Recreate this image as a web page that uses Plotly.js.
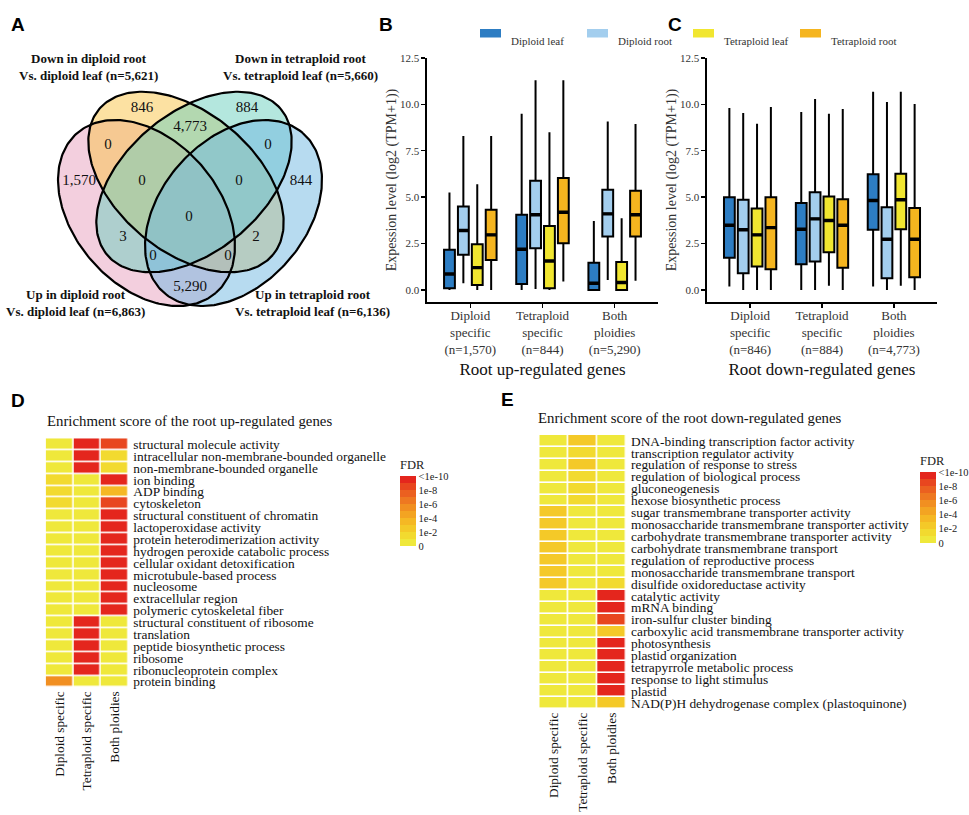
<!DOCTYPE html>
<html>
<head>
<meta charset="utf-8">
<script src="https://cdn.plot.ly/plotly-3.0.1.min.js"></script>
<style>html,body{margin:0;padding:0;background:#fff;}#chart{width:969px;height:815px;}</style>
</head>
<body>
<div id="chart"></div>
<script>
// ---------------- DATA ----------------
// Panel A: Venn (sets: pink, yellow, teal, blue)
const vennSetNames = [
  'Up in diploid root<br>Vs. diploid leaf (n=6,863)',
  'Down in diploid root<br>Vs. diploid leaf (n=5,621)',
  'Down in tetraploid root<br>Vs. tetraploid leaf (n=5,660)',
  'Up in tetraploid root<br>Vs. tetraploid leaf (n=6,136)'
];
const vennCounts = [846, 4773, 884, 0, 0, 1570, 0, 0, 844, 0, 3, 2, 0, 0, 5290];

// Panels B & C: box statistics (log2(TPM+1))
const sampleNames = ['Diploid leaf', 'Diploid root', 'Tetraploid leaf', 'Tetraploid root'];
const groupKeys = ['Diploid specific', 'Tetraploid specific', 'Both ploidies'];
const groupTicksB = ['Diploid<br>specific<br>(n=1,570)', 'Tetraploid<br>specific<br>(n=844)', 'Both<br>ploidies<br>(n=5,290)'];
const groupTicksC = ['Diploid<br>specific<br>(n=846)', 'Tetraploid<br>specific<br>(n=884)', 'Both<br>ploidies<br>(n=4,773)'];

// B (root up-regulated) per sample: [group1, group2, group3]
const upQ1  = [[0.09,0.32,0.00],[1.90,2.25,2.88],[0.27,0.09,0.00],[1.62,2.52,2.88]];
const upMed = [[0.86,2.19,0.36],[3.20,4.05,4.10],[1.20,1.56,0.40],[2.97,4.19,4.05]];
const upQ3  = [[2.16,4.05,1.47],[4.50,5.88,5.40],[2.46,3.45,1.51],[4.32,6.03,5.34]];
const upLo  = [[0.00,0.00,0.00],[0.36,0.05,0.54],[0.00,0.00,0.00],[0.00,0.45,0.50]];
const upHi  = [[5.25,9.50,3.72],[8.30,11.30,9.08],[5.70,8.50,3.87],[8.30,11.30,8.94]];

// C (root down-regulated)
const dnQ1  = [[1.74,1.38,3.24],[0.90,1.53,0.63],[1.26,2.03,3.27],[1.12,1.20,0.68]];
const dnMed = [[3.49,3.27,4.82],[3.24,3.83,2.73],[2.97,3.74,4.86],[3.36,3.49,2.73]];
const dnQ3  = [[5.00,4.68,6.24],[4.86,5.27,4.46],[4.39,5.04,6.26],[5.00,4.89,4.41]];
const dnLo  = [[0.18,0.00,0.18],[0.00,0.00,0.00],[0.00,0.22,0.22],[0.00,0.00,0.00]];
const dnHi  = [[9.80,9.59,10.68],[9.53,10.29,10.13],[8.96,9.50,10.68],[9.86,9.75,10.02]];

// Panels D & E: -log10(FDR), capped at 10
const heatCols = ['Diploid specific', 'Tetraploid specific', 'Both ploidies'];
const termsUp = ['structural molecule activity','intracellular non-membrane-bounded organelle','non-membrane-bounded organelle','ion binding','ADP binding','cytoskeleton','structural constituent of chromatin','lactoperoxidase activity','protein heterodimerization activity','hydrogen peroxide catabolic process','cellular oxidant detoxification','microtubule-based process','nucleosome','extracellular region','polymeric cytoskeletal fiber','structural constituent of ribosome','translation','peptide biosynthetic process','ribosome','ribonucleoprotein complex','protein binding'];
const scoreUp = [[0,10,8],[0,10,1],[0,10,1],[1,0,10],[1,0,3],[1,0,8.5],[0,0,10],[0,0,10],[0,0,10],[0,0,10],[0,0,10],[0,0,10],[0,0,10],[0,0,10],[0,0,10],[0,10,0],[0,10,0],[0,10,0],[0,10,0],[0,10,0],[5,0,0]];
const termsDown = ['DNA-binding transcription factor activity','transcription regulator activity','regulation of response to stress','regulation of biological process','gluconeogenesis','hexose biosynthetic process','sugar transmembrane transporter activity','monosaccharide transmembrane transporter activity','carbohydrate transmembrane transporter activity','carbohydrate transmembrane transport','regulation of reproductive process','monosaccharide transmembrane transport','disulfide oxidoreductase activity','catalytic activity','mRNA binding','iron-sulfur cluster binding','carboxylic acid transmembrane transporter activity','photosynthesis','plastid organization','tetrapyrrole metabolic process','response to light stimulus','plastid','NAD(P)H dehydrogenase complex (plastoquinone)'];
const scoreDown = [[0,2.5,0],[0,1.5,0],[0,2.5,0],[0,1.2,0],[0,1.2,0],[0,1.2,0],[2.5,0,0],[2.5,0,0],[2.5,0,0],[2.5,0,0],[2.5,0,0],[2.5,0,0],[2.5,0,1],[0,0,10],[0,0,10],[0,0,8.5],[0,0,2.5],[0,0,10],[0,0,10],[0,0,10],[0,0,10],[0,0,10],[0,0,2.5]];
const fdrTickVals = [10, 8, 6, 4, 2, 0];
const fdrTickText = ['<1e-10', '1e-8', '1e-6', '1e-4', '1e-2', '0'];

// ---------------- STYLE / GEOMETRY ----------------
const W = 969, H = 815;
const SERIF = 'Liberation Serif, Times New Roman, serif';
const SANS = 'Liberation Sans, Arial, sans-serif';
const px = v => v / W;
const py = v => 1 - v / H;

// Venn ellipses in the panel's own pixel-unit axes (pink, yellow, teal, blue)
const vennFill = ['rgba(231,160,190,0.5)','rgba(249,196,70,0.5)','rgba(105,208,190,0.5)','rgba(112,184,226,0.5)'];
const vennCx = [146.5, 186, 194, 233.5];
const vennCy = [213, 182, 182, 213];
const vennA = [105.8, 113.4, 113.4, 105.8];
const vennB = [72.7, 69.5, 69.5, 72.7];
const vennAng = [49, 40, -40, -49];
const vennLabelX = [142,190,247,108,268,79,142,239,301,189,123,256,153,228,190];
const vennLabelY = [108,127,108,145,145,181,181,181,181,217,237,237,256,256,287];
const vennSetPos = [[75,303],[88,67],[300,67],[312,303]];

const boxColors = ['#2D7DC3', '#A3CEEE', '#F1E630', '#F5B51F'];
const bandColors = ['#EFE83B','#F2DA2F','#F4C928','#F5B824','#F3A422','#F18F21','#EE7821','#EB6020','#E8461F','#E4261D'];
const stepScale = [];
bandColors.forEach((c, i) => { stepScale.push([i / bandColors.length, c]); stepScale.push([(i + 1) / bandColors.length, c]); });

// ---------------- TRACES ----------------
const traces = [];

function ellipse(i) {
  const xs = [], ys = [];
  const A = vennAng[i] * Math.PI / 180;
  for (let k = 0; k <= 240; k++) {
    const t = 2 * Math.PI * k / 240;
    const ex = vennA[i] * Math.cos(t), ey = vennB[i] * Math.sin(t);
    xs.push(vennCx[i] + ex * Math.cos(A) - ey * Math.sin(A));
    ys.push(vennCy[i] + ex * Math.sin(A) + ey * Math.cos(A));
  }
  return {xs, ys};
}
for (let i = 0; i < 4; i++) {
  const e = ellipse(i);
  traces.push({type:'scatter', mode:'lines', x:e.xs, y:e.ys, fill:'toself', fillcolor:vennFill[i], line:{width:0, color:'rgba(0,0,0,0)'}, xaxis:'x', yaxis:'y', hoverinfo:'skip'});
}
for (let i = 0; i < 4; i++) {
  const e = ellipse(i);
  traces.push({type:'scatter', mode:'lines', x:e.xs, y:e.ys, line:{width:2.2, color:'#000'}, xaxis:'x', yaxis:'y', hoverinfo:'skip'});
}
const fmt = n => String(n).replace(/\B(?=(\d{3})+(?!\d))/g, ',');
traces.push({type:'scatter', mode:'text', x:vennLabelX, y:vennLabelY, text:vennCounts.map(fmt), textfont:{family:SERIF, size:15, color:'#111'}, xaxis:'x', yaxis:'y', hoverinfo:'skip', cliponaxis:false});

// Box plots (boxes + thick median bars sharing the same offset slot)
function addBoxes(q1, med, q3, lo, hi, xa, ya, grp) {
  for (let s = 0; s < 4; s++) {
    traces.push({type:'box', name:sampleNames[s], x:groupKeys, q1:q1[s], median:med[s], q3:q3[s], lowerfence:lo[s], upperfence:hi[s],
      alignmentgroup:grp, offsetgroup:grp + s,
      fillcolor:boxColors[s], line:{color:'#000', width:2}, whiskerwidth:0, boxpoints:false, xaxis:xa, yaxis:ya, hoverinfo:'skip'});
  }
  for (let s = 0; s < 4; s++) {
    traces.push({type:'box', name:sampleNames[s] + ' median', x:groupKeys, q1:med[s], median:med[s], q3:med[s], lowerfence:med[s], upperfence:med[s],
      alignmentgroup:grp, offsetgroup:grp + s,
      fillcolor:'rgba(0,0,0,0)', line:{color:'#000', width:3.4}, whiskerwidth:0, boxpoints:false, xaxis:xa, yaxis:ya, hoverinfo:'skip'});
  }
}
addBoxes(upQ1, upMed, upQ3, upLo, upHi, 'x2', 'y2', 'B');
addBoxes(dnQ1, dnMed, dnQ3, dnLo, dnHi, 'x3', 'y3', 'C');

// Heatmaps
const cbCommon = {thickness:16, lenmode:'pixels', outlinewidth:0, xanchor:'left', yanchor:'top', xpad:0, ypad:0, ticks:'',
  tickvals:fdrTickVals, ticktext:fdrTickText, tickfont:{family:SERIF, size:10.5, color:'#222'},
  title:{text:'FDR', side:'top', font:{family:SERIF, size:12.5, color:'#222'}}};
traces.push({type:'heatmap', z:scoreUp, x:heatCols, y:termsUp, zmin:0, zmax:10, colorscale:stepScale, xgap:1.6, ygap:1.6,
  xaxis:'x4', yaxis:'y4', hoverinfo:'skip',
  colorbar:Object.assign({}, cbCommon, {x:px(400), y:py(457), len:89})});
traces.push({type:'heatmap', z:scoreDown, x:heatCols, y:termsDown, zmin:0, zmax:10, colorscale:stepScale, xgap:1.6, ygap:1.6,
  xaxis:'x5', yaxis:'y5', hoverinfo:'skip',
  colorbar:Object.assign({}, cbCommon, {x:px(920), y:py(453), len:90})});

// ---------------- LAYOUT ----------------
const boxX = (d0, d1, ticks) => ({domain:[px(d0), px(d1)], type:'category', range:[-0.6, 2.6],
  showline:true, linecolor:'#000', linewidth:1.6, ticks:'outside', ticklen:4, tickwidth:1.4, tickcolor:'#000',
  tickmode:'array', tickvals:groupKeys, ticktext:ticks, tickfont:{family:SERIF, size:13, color:'#333'}, ticklabelstandoff:-3,
  showgrid:false, zeroline:false, fixedrange:true});
const boxY = () => ({domain:[py(302), py(58)], range:[-0.65, 12.5], tick0:0, dtick:2.5, tickformat:'.1f',
  showline:true, linecolor:'#000', linewidth:1.6, ticks:'outside', ticklen:4, tickwidth:1.4, tickcolor:'#000',
  tickfont:{family:SERIF, size:11, color:'#333'}, showgrid:false, zeroline:false, fixedrange:true,
  title:{text:'Expession level (log2 (TPM+1))', font:{family:SERIF, size:14, color:'#333'}, standoff:0}});

const heatX = (d0, d1, ya) => ({domain:[px(d0), px(d1)], anchor:ya, type:'category', tickangle:-90, ticks:'', showgrid:false, zeroline:false, showline:false,
    tickfont:{family:SERIF, size:13.3, color:'#111'}, fixedrange:true});
const heatY = (d0, d1, xa, terms) => ({domain:[py(d1), py(d0)], anchor:xa, side:'right', type:'category', autorange:'reversed', ticks:'', showgrid:false, zeroline:false, showline:false,
    tickmode:'array', tickvals:terms, ticktext:terms, tickfont:{family:SERIF, size:13.4, color:'#111'}, ticklabelstandoff:4, fixedrange:true});

const layout = {
  width:W, height:H, margin:{l:0, r:0, t:0, b:0}, paper_bgcolor:'#fff', plot_bgcolor:'rgba(0,0,0,0)',
  showlegend:false, boxmode:'group', boxgap:0.23, boxgroupgap:0.22,
  xaxis:{domain:[0, px(407)], range:[0, 407], visible:false, fixedrange:true},
  yaxis:{domain:[py(407), 1], range:[407, 0], visible:false, fixedrange:true},
  xaxis2:Object.assign(boxX(427, 658, groupTicksB), {anchor:'y2', title:{text:'Root up-regulated genes', font:{family:SERIF, size:17, color:'#111'}, standoff:7}}),
  yaxis2:Object.assign(boxY(), {anchor:'x2'}),
  xaxis3:Object.assign(boxX(707, 937, groupTicksC), {anchor:'y3', title:{text:'Root down-regulated genes', font:{family:SERIF, size:17, color:'#111'}, standoff:7}}),
  yaxis3:Object.assign(boxY(), {anchor:'x3'}),
  xaxis4:heatX(45.7, 128.3, 'y4'),
  yaxis4:heatY(438.3, 687.7, 'x4', termsUp),
  xaxis5:heatX(539.3, 626, 'y5'),
  yaxis5:heatY(435, 709, 'x5', termsDown),
  annotations:[], shapes:[]
};

// Venn set labels
vennSetNames.forEach((t, i) => layout.annotations.push({xref:'x', yref:'y', x:vennSetPos[i][0], y:vennSetPos[i][1], text:'<b>' + t + '</b>',
  showarrow:false, font:{family:SERIF, size:13, color:'#111'}, align:'center'}));

// Panel letters
[['A',9,12],['B',386,12],['C',684,12],['D',9,400],['E',507,399]].forEach(p => layout.annotations.push({xref:'paper', yref:'paper',
  x:px(p[1]), y:py(p[2]), text:'<b>' + p[0] + '</b>', showarrow:false, font:{family:SANS, size:19, color:'#000'}}));

// Heatmap titles
layout.annotations.push({xref:'paper', yref:'paper', x:px(45), y:py(421), xanchor:'left', text:'Enrichment score of the root up-regulated genes', showarrow:false, font:{family:SERIF, size:14.8, color:'#111'}});
layout.annotations.push({xref:'paper', yref:'paper', x:px(536), y:py(418), xanchor:'left', text:'Enrichment score of the root down-regulated genes', showarrow:false, font:{family:SERIF, size:14.8, color:'#111'}});

// Box legend (keys + labels)
const legKeyX = [480, 587, 693, 800];
sampleNames.forEach((n, i) => {
  layout.shapes.push({type:'rect', xref:'paper', yref:'paper', x0:px(legKeyX[i]), x1:px(legKeyX[i] + 21), y0:py(37.5), y1:py(29), fillcolor:boxColors[i], line:{width:0}});
  layout.annotations.push({xref:'paper', yref:'paper', x:px(legKeyX[i] + 29), y:py(33.5), xanchor:'left', text:n, showarrow:false, font:{family:SERIF, size:11, color:'#333'}});
});

Plotly.newPlot('chart', traces, layout, {displayModeBar:false, staticPlot:true});
</script>
</body>
</html>
